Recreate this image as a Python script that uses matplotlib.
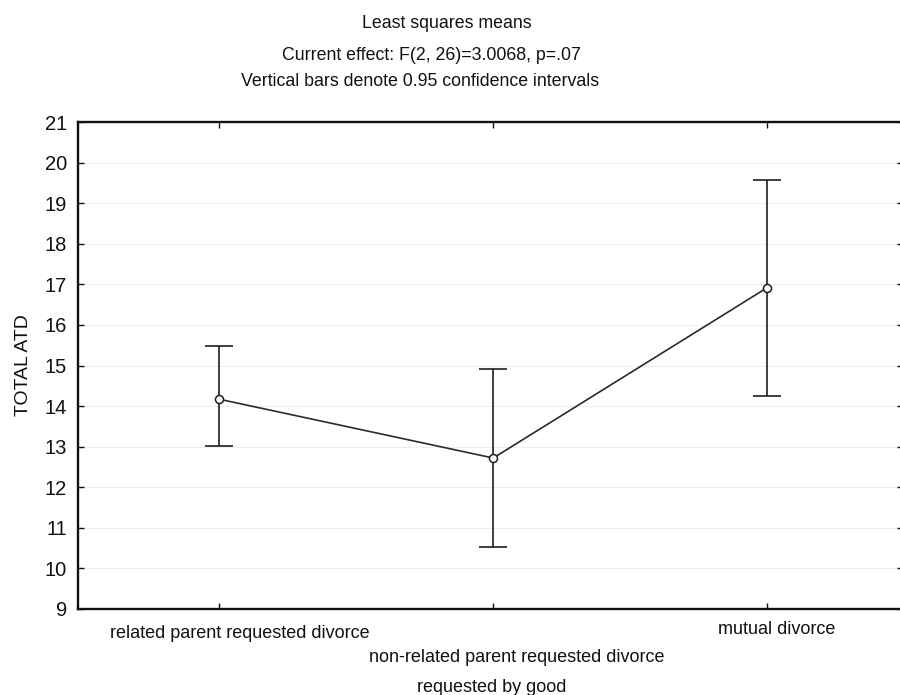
import numpy as np
import matplotlib
matplotlib.use("Agg")
import matplotlib.pyplot as plt
import matplotlib.transforms as mtransforms

plt.rcParams['font.family'] = ['Liberation Sans', 'DejaVu Sans']

# Least squares means with 0.95 confidence limits
groups = ['related parent requested divorce',
          'non-related parent requested divorce',
          'mutual divorce']
means = [14.17, 12.72, 16.92]
ci_low = [13.02, 10.52, 14.25]
ci_high = [15.47, 14.92, 19.57]
y_ticks = list(range(9, 22))

W, H = 900, 695
fig = plt.figure(figsize=(W / 100, H / 100), dpi=100)
ax = fig.add_axes([78 / W, 1 - 609 / H, (903 - 78) / W, (609 - 122) / H])

x = np.arange(len(groups))
lo = np.array(means) - np.array(ci_low)
hi = np.array(ci_high) - np.array(means)

ax.errorbar(x, means, yerr=[lo, hi], fmt='none', ecolor='#1e1e1e',
            elinewidth=1.2, capsize=10, capthick=1.2, zorder=3)
ax.plot(x, means, '-', color='#2a2a2a', lw=1.2, zorder=4)
ax.plot(x, means, 'o', ms=5.8, mfc='white', mec='#1e1e1e', mew=1.1, zorder=5)

ax.set_xlim(-0.515, 2.495)
ax.set_ylim(9, 21)
ax.set_yticks(y_ticks)
ax.set_yticklabels([str(v) for v in y_ticks], fontsize=14.5)
ax.set_xticks(x)
ax.set_xticklabels([])
ax.tick_params(axis='both', direction='in', length=4, width=1,
               top=True, right=True, pad=8, colors='#111111')
ax.grid(axis='y', color='#efefef', lw=0.8)
ax.set_axisbelow(True)
for s in ax.spines.values():
    s.set_linewidth(1.7)
    s.set_color('#111111')

# staggered category labels, as in the original output
dx = [21, 24, 9]
dy = [-24, -48, -20]
trans = mtransforms.blended_transform_factory(ax.transData, ax.transAxes)
for i, name in enumerate(groups):
    ax.annotate(name, xy=(i, 0), xycoords=trans, xytext=(dx[i], dy[i]),
                textcoords='offset pixels', ha='center', va='center',
                fontsize=13, color='#111111')

fig.text(492 / W, 1 - 687 / H, 'requested by good', ha='center', va='center',
         fontsize=13, color='#111111')
fig.text(24 / W, 1 - 365 / H, 'TOTAL ATD', rotation=90, ha='center',
         va='center', fontsize=14, color='#111111')

fig.text(447 / W, 1 - 23 / H, 'Least squares means', ha='center',
         va='center', fontsize=12.8, color='#111111')
fig.text(431 / W, 1 - 55 / H, 'Current effect: F(2, 26)=3.0068, p=.07',
         ha='center', va='center', fontsize=12.8, color='#111111')
fig.text(420 / W, 1 - 81 / H, 'Vertical bars denote 0.95 confidence intervals',
         ha='center', va='center', fontsize=12.8, color='#111111')

fig.savefig('out.png', dpi=100)
